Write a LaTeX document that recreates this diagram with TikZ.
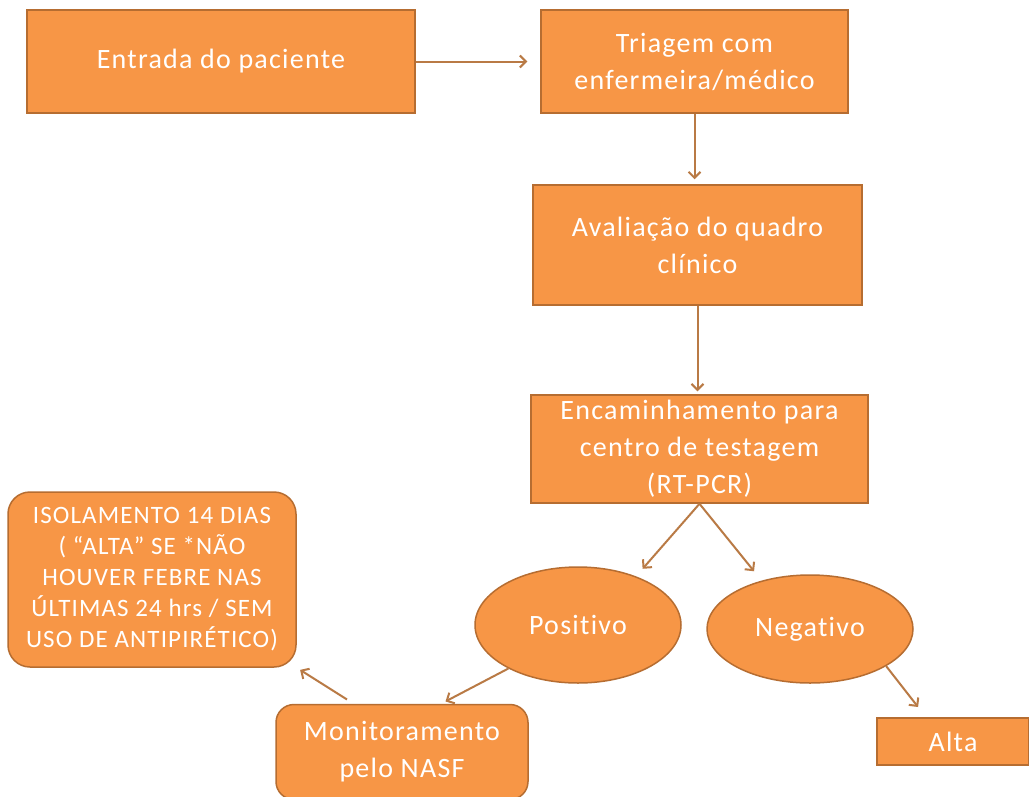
\documentclass[tikz,border=0pt]{standalone}
\usepackage{fontspec}
\setmainfont{Carlito}[LetterSpace=4.5,Ligatures=NoCommon]
\usetikzlibrary{arrows.meta,shapes.geometric}
\definecolor{boxfill}{HTML}{F79646}
\definecolor{boxline}{HTML}{B66D31}
\definecolor{arrowline}{HTML}{B97A45}
\tikzset{
  stepbox/.style={draw=boxline,line width=1.5pt,fill=boxfill,text=white,align=center,inner sep=0pt,font=\fontsize{28}{37}\selectfont},
  roundbox/.style={stepbox,rounded corners=22pt},
  resultbox/.style={stepbox,ellipse},
  flow/.style={draw=arrowline,line width=2pt,-{Straight Barb[length=6pt,width=12pt]}}
}
\begin{document}
\begin{tikzpicture}[x=1pt,y=-1pt]
\clip (0,0) rectangle (1029,796);
\fill[white] (0,0) rectangle (1029,796);
\node[stepbox,minimum width=388,minimum height=103] (entrada) at (221,61.5) {Entrada do paciente};
\node[stepbox,minimum width=307,minimum height=103] (triagem) at (694.5,61.5) {Triagem com\\enfermeira/médico};
\node[stepbox,minimum width=329,minimum height=120] (avaliacao) at (697.5,245) {Avaliação do quadro\\clínico};
\node[stepbox,minimum width=337,minimum height=108] (encaminhamento) at (699.5,449) {Encaminhamento para\\centro de testagem\\(RT-PCR)};
\node[resultbox,minimum width=206,minimum height=116] (positivo) at (578,625) {Positivo};
\node[resultbox,minimum width=206,minimum height=108] (negativo) at (810,629) {Negativo};
\node[roundbox,minimum width=288,minimum height=175,font=\fontsize{25}{31}\selectfont] (isolamento) at (152,579.5) {ISOLAMENTO 14 DIAS\\( “ALTA” SE *NÃO\\HOUVER FEBRE NAS\\ÚLTIMAS 24 hrs / SEM\\USO DE ANTIPIRÉTICO)};
\node[roundbox,rounded corners=18pt,minimum width=252,minimum height=95] (monitoramento) at (402,752) {Monitoramento\\pelo NASF};
\node[stepbox,minimum width=152,minimum height=47] (alta) at (953,741.5) {Alta};
\draw[flow,shorten >=13pt] (entrada.east) -- (triagem.west);
\draw[flow,shorten >=5pt] (triagem.south) -- (triagem.south |- avaliacao.north);
\draw[flow,shorten >=3pt] (avaliacao.south) -- (avaliacao.south |- encaminhamento.north);
\draw[flow,shorten >=10pt] (encaminhamento.south) -- (positivo.40);
\draw[flow,shorten >=12pt] (encaminhamento.south) -- (negativo.135);
\draw[flow,shorten >=5pt] (positivo.212) -- (monitoramento.51);
\draw[flow,shorten <=8pt,shorten >=4pt] (monitoramento.135) -- (isolamento.south east);
\draw[flow,shorten >=13pt] (negativo.-26) -- (alta.138);
\end{tikzpicture}
\end{document}
